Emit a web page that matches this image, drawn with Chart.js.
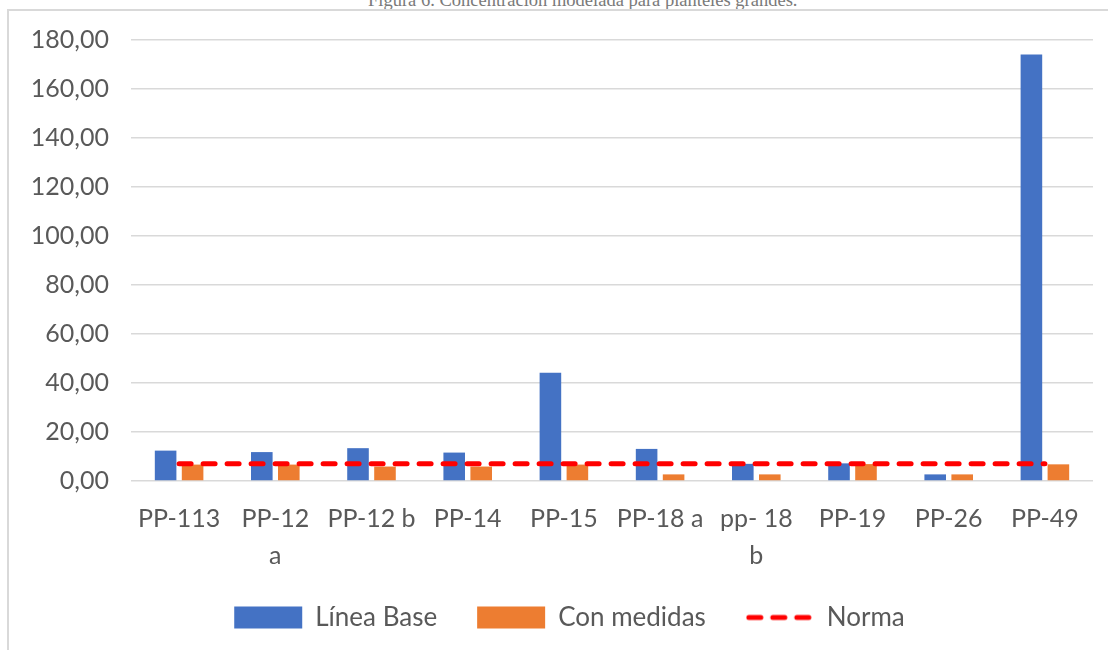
<!DOCTYPE html>
<html>
<head>
<meta charset="utf-8">
<script src="https://cdn.jsdelivr.net/npm/chart.js@4"></script>
<style>
  html, body { margin: 0; padding: 0; background: #fff; overflow: hidden; }
  #marco {
    position: absolute; left: 7px; top: 9px; width: 1120px; height: 660px;
    border: 2px solid #d9d9d9; box-sizing: border-box;
  }
  #titulo {
    position: absolute; left: 368px; top: -9px; white-space: nowrap;
    font-family: "Liberation Serif", "Times New Roman", serif; font-size: 18.5px;
    line-height: 1; color: #7a7a7a;
  }
  #grafico { position: absolute; left: 0; top: 0; }
</style>
</head>
<body>
<div id="titulo">Figura 6. Concentración modelada para planteles grandes.</div>
<div id="marco"></div>
<canvas id="grafico" width="1108" height="650"></canvas>
<script>
// Datos
const categorias = ['PP-113', ['PP-12', 'a'], 'PP-12 b', 'PP-14', 'PP-15', 'PP-18 a', ['pp- 18', 'b'], 'PP-19', 'PP-26', 'PP-49'];
const lineaBase = [12.4, 11.8, 13.4, 11.6, 44.2, 13.1, 7.0, 7.2, 2.7, 174.1];
const conMedidas = [6.7, 6.7, 5.9, 5.9, 6.7, 2.7, 2.7, 6.9, 2.7, 6.8];
const norma = [7, 7, 7, 7, 7, 7, 7, 7, 7, 7];
const ticksY = [0, 20, 40, 60, 80, 100, 120, 140, 160, 180];

const fuente = 'Lato, "Open Sans", sans-serif';
const gris = '#595959';
const rojo = '#ff0000';

// muestra de la leyenda para la línea discontinua
function muestraNorma() {
    const c = document.createElement('canvas');
    c.width = 68;
    c.height = 22;
    const g = c.getContext('2d');
    g.strokeStyle = rojo;
    g.lineWidth = 5;
    g.lineCap = 'round';
    g.setLineDash([12, 12]);
    g.beginPath();
    g.moveTo(3, 11);
    g.lineTo(66, 11);
    g.stroke();
    return c;
}
const iconoNorma = muestraNorma();

// la leyenda del original está algo corrida a la derecha
const moverLeyenda = {
    id: 'moverLeyenda',
    afterLayout(chart) {
        if (chart.legend) {
            chart.legend.left += 23;
            chart.legend.right += 23;
        }
    }
};

const ctx = document.getElementById('grafico').getContext('2d');
new Chart(ctx, {
    data: {
        labels: categorias,
        datasets: [
            {
                type: 'bar',
                label: 'Línea Base',
                data: lineaBase,
                backgroundColor: '#4472c4',
                categoryPercentage: 0.561,
                barPercentage: 0.8,
                order: 1
            },
            {
                type: 'bar',
                label: 'Con medidas',
                data: conMedidas,
                backgroundColor: '#ed7d31',
                categoryPercentage: 0.561,
                barPercentage: 0.8,
                order: 1
            },
            {
                type: 'line',
                label: 'Norma',
                data: norma,
                borderColor: rojo,
                backgroundColor: rojo,
                borderWidth: 5,
                borderDash: [12, 12],
                borderCapStyle: 'round',
                pointRadius: 0,
                fill: false,
                order: 0
            }
        ]
    },
    plugins: [moverLeyenda],
    options: {
        responsive: false,
        animation: false,
        layout: { padding: { top: 40, right: 15, left: 0, bottom: 9.5 } },
        plugins: {
            tooltip: { enabled: false },
            legend: {
                position: 'bottom',
                labels: {
                    usePointStyle: true,
                    pointStyleWidth: 68,
                    boxHeight: 22,
                    padding: 40,
                    color: gris,
                    font: { family: fuente, size: 26 },
                    sort: (a, b) => a.datasetIndex - b.datasetIndex,
                    generateLabels: (chart) => {
                        const items = Chart.defaults.plugins.legend.labels.generateLabels(chart);
                        items.forEach(it => {
                            if (it.datasetIndex === 2) {
                                it.pointStyle = iconoNorma;
                            } else {
                                it.pointStyle = 'rect';
                                it.lineWidth = 0;
                            }
                        });
                        return items;
                    }
                }
            }
        },
        scales: {
            x: {
                grid: { display: false },
                border: { display: false },
                ticks: {
                    color: gris,
                    font: { family: fuente, size: 25, lineHeight: 1.48 },
                    maxRotation: 0,
                    autoSkip: false,
                    padding: 11
                },
                afterFit: (scale) => { scale.height = 83.5; }
            },
            y: {
                min: 0,
                max: 180,
                afterBuildTicks: (scale) => { scale.ticks = ticksY.map(v => ({ value: v })); },
                grid: { color: '#d9d9d9', lineWidth: 1.5, drawTicks: false },
                border: { display: false },
                ticks: {
                    color: gris,
                    font: { family: fuente, size: 25 },
                    padding: 22,
                    callback: (v) => Number(v).toFixed(2).replace('.', ',')
                },
                afterFit: (scale) => { scale.width = 131; }
            }
        }
    }
});
</script>
</body>
</html>
